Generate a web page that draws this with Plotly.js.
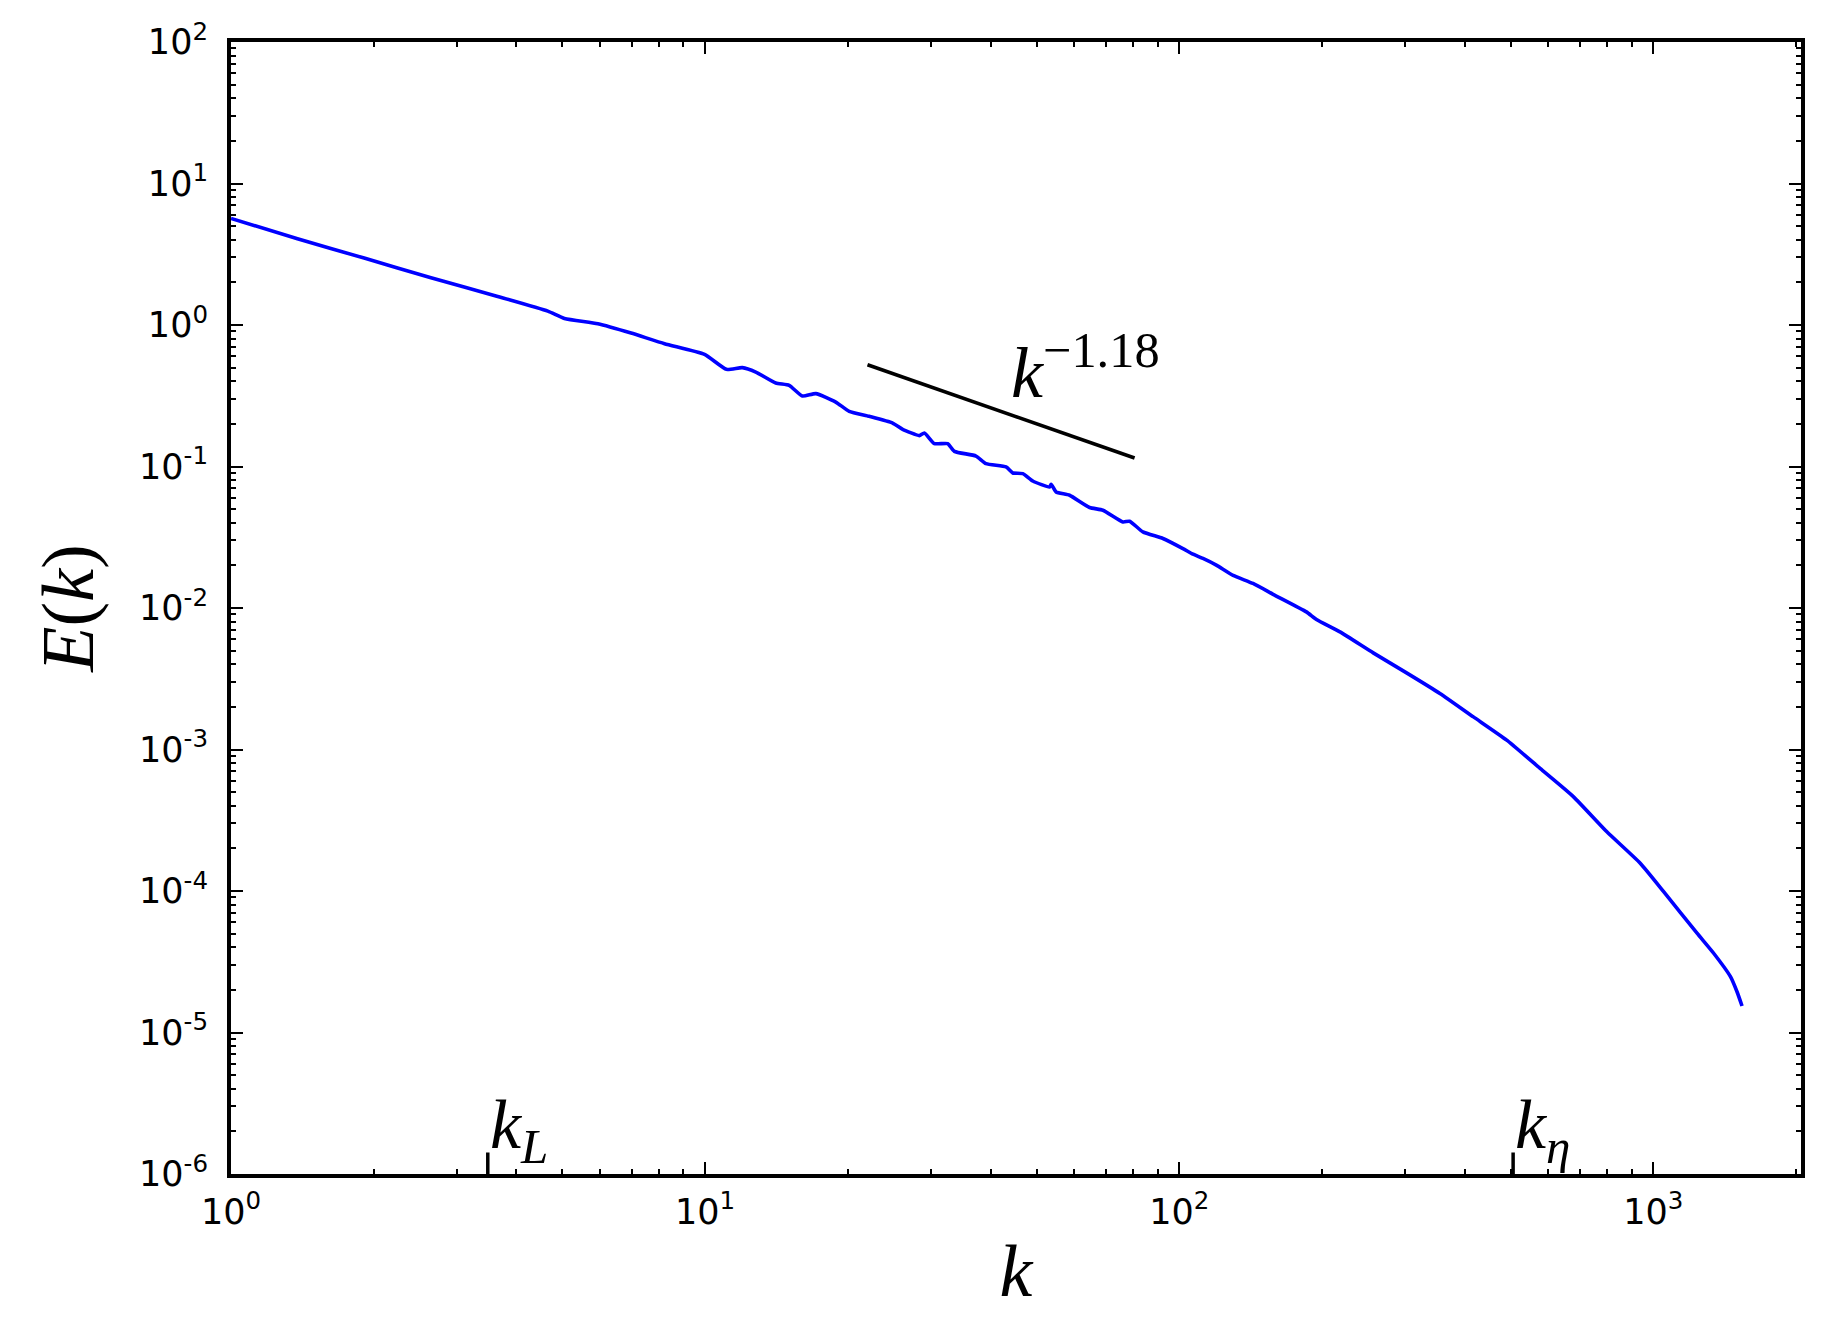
<!DOCTYPE html>
<html>
<head>
<meta charset="utf-8">
<script src="https://cdn.plot.ly/plotly-3.0.1.min.js"></script>
<style>html,body{margin:0;padding:0;background:#fff;}#chart{width:1836px;height:1326px;}</style>
</head>
<body>
<div id="chart"></div>
<script>
// Energy spectrum E(k)
const kValues = [1.000, 1.381, 1.909, 2.641, 3.652, 4.658, 5.05, 5.94, 6.98, 8.21, 9.97,
  11.09, 11.98, 12.79, 14.09, 15.04, 16.04, 17.12, 18.86, 20.13, 22.19, 24.86, 26.10,
  28.29, 29.0, 30.44, 32.47, 33.55, 37.26, 39.12, 43.12, 44.55, 46.77, 49.09, 53.25,
  53.67, 54.98, 58.69, 64.69, 69.02, 76.05, 78.58, 83.81, 92.38, 101.8, 106.9, 112.2,
  119.7, 129.9, 143.1, 157.7, 185.4, 194.7, 218.2, 256.5, 301.6, 354.6, 417.2, 490.5,
  576.8, 678.6, 797.8, 938.2, 1051, 1236, 1340, 1454, 1501, 1538];
const eValues = [5.66, 4.07, 2.97, 2.158, 1.592, 1.254, 1.113, 1.021, 0.877, 0.738, 0.620,
  0.486, 0.4995, 0.465, 0.389, 0.3745, 0.3147, 0.3272, 0.2854, 0.2454, 0.2262, 0.2028, 0.1831,
  0.1653, 0.1724, 0.1451, 0.1451, 0.1280, 0.1186, 0.1048, 0.0992, 0.0900, 0.0891, 0.0790, 0.0716,
  0.0748, 0.0661, 0.0626, 0.0513, 0.0491, 0.0406, 0.0410, 0.0345, 0.0310, 0.0263, 0.0240, 0.0224,
  0.0201, 0.0170, 0.0149, 0.0125, 0.00939, 0.00830, 0.00678, 0.00482, 0.00348, 0.00249, 0.00170, 0.001165,
  0.000735, 0.000463, 0.000262, 0.000157, 9.89e-5, 5.03e-5, 3.63e-5, 2.48e-5, 1.94e-5, 1.54e-5];

// Reference power-law segment k^-1.18
const slopeK = [22.0, 80.5];
const slopeE = [0.524, 0.1148];
const slopeLabel = '<i>k</i><sup>\u22121.18</sup>';

// Characteristic wavenumbers marked on the k axis
const markerK = [3.48, 506];
const markerLabels = ['<i>k</i><sub><i>L</i></sub>', '<i>k</i><sub><i>\u03b7</i></sub>'];

// Tick labels
const xTickVals = [1, 10, 100, 1000];
const xTickText = ['10<sup>0</sup>', '10<sup>1</sup>', '10<sup>2</sup>', '10<sup>3</sup>'];
const yTickVals = [1e-6, 1e-5, 1e-4, 1e-3, 1e-2, 1e-1, 1, 10, 100];
const yTickText = ['10<sup>-6</sup>', '10<sup>-5</sup>', '10<sup>-4</sup>', '10<sup>-3</sup>',
  '10<sup>-2</sup>', '10<sup>-1</sup>', '10<sup>0</sup>', '10<sup>1</sup>', '10<sup>2</sup>'];

const mathFont = 'Liberation Serif, DejaVu Serif, serif';
const tickFont = {family: 'DejaVu Sans, sans-serif', size: 35, color: '#000'};

const traces = [
  {x: kValues, y: eValues, type: 'scatter', mode: 'lines',
   line: {color: '#0000ff', width: 3.6, shape: 'spline', smoothing: 0.5}, hoverinfo: 'skip'},
  {x: slopeK, y: slopeE, type: 'scatter', mode: 'lines',
   line: {color: '#000000', width: 3.6}, hoverinfo: 'skip'}
];

const axisCommon = {
  type: 'log', showline: true, linecolor: '#000', linewidth: 4, mirror: 'ticks',
  ticks: 'inside', ticklen: 12, tickwidth: 2, tickcolor: '#000',
  tickmode: 'array', showgrid: false, zeroline: false, tickfont: tickFont,
  minor: {ticks: 'inside', ticklen: 5, tickwidth: 2, tickcolor: '#000', dtick: 'D1', showgrid: false}
};

const shapes = markerK.map(k => ({
  type: 'line', xref: 'x', yref: 'paper', x0: k, x1: k, y0: 0, y1: 0.019,
  line: {color: '#000', width: 3.5}
}));

const annotations = [
  {x: Math.log10(63.5), y: Math.log10(0.50), xref: 'x', yref: 'y', text: slopeLabel,
   showarrow: false, font: {family: mathFont, size: 72, color: '#000'}, xanchor: 'center', yanchor: 'middle'}
].concat(markerK.map((k, i) => ({
  x: Math.log10(k), y: 0, xref: 'x', yref: 'paper', text: markerLabels[i], showarrow: false,
  font: {family: mathFont, size: 70, color: '#000'}, xanchor: 'left', yanchor: 'bottom', xshift: 0, yshift: -2
})));

const layout = {
  width: 1836, height: 1326,
  margin: {l: 231, r: 35, t: 42, b: 152, pad: 0},
  paper_bgcolor: '#fff', plot_bgcolor: '#fff', showlegend: false,
  xaxis: Object.assign({}, axisCommon, {
    range: [0, Math.log10(2048)], tickvals: xTickVals, ticktext: xTickText, ticklabelstandoff: 4,
    title: {text: '<i>k</i>', font: {family: mathFont, size: 74, color: '#000'}, standoff: 14}
  }),
  yaxis: Object.assign({}, axisCommon, {
    range: [-6, 2], tickvals: yTickVals, ticktext: yTickText, ticklabelstandoff: 12,
    title: {text: '<i>E</i>(<i>k</i>)', font: {family: mathFont, size: 74, color: '#000'}, standoff: 22}
  }),
  shapes: shapes,
  annotations: annotations
};

Plotly.newPlot('chart', traces, layout, {staticPlot: true, displayModeBar: false});
</script>
</body>
</html>
